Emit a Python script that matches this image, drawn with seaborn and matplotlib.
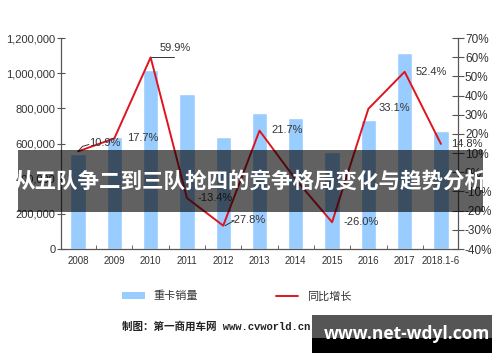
import pandas as pd
import numpy as np
import matplotlib
matplotlib.use('Agg')
import matplotlib.pyplot as plt
import seaborn as sns
from matplotlib.patches import Patch, Rectangle
from matplotlib.lines import Line2D

# data
years = ['2008', '2009', '2010', '2011', '2012', '2013', '2014', '2015', '2016', '2017', '2018.1-6']
sales = [540000, 637000, 1017000, 880000, 636000, 774000, 744000, 551000, 733000, 1117000, 672000]
growth = [10.9, 17.7, 59.9, -13.4, -27.8, 21.7, -3.8, -26.0, 33.1, 52.4, 14.8]
# label positions (index offset, y in %) for the growth labels
label_x = [0.74, 1.77, 2.67, 3.77, 4.68, 5.76, None, 7.8, 8.73, 9.72, 10.72]
label_y = [15.3, 17.8, 64.8, -13.4, -25.0, 22.0, None, -25.9, 33.5, 52.3, 14.8]

df = pd.DataFrame({'year': years, 'sales': sales, 'growth': growth})

sns.set_style('white')
plt.rcParams['font.family'] = ['Liberation Sans', 'Noto Sans CJK SC', 'DejaVu Sans']

fig = plt.figure(figsize=(5, 3.62), dpi=100)
ax = fig.add_axes([0.122, 0.312, 0.794, 0.583])

bar_color = '#99CCFF'
line_color = '#E0141E'
axis_color = '#555555'

sns.barplot(data=df, x='year', y='sales', color=bar_color, width=0.42,
            saturation=1, ax=ax)
ax.set_ylim(0, 1200000)
ax.set_yticks(np.arange(0, 1200001, 200000))
ax.set_yticklabels([f'{v:,}' for v in range(0, 1200001, 200000)])
ax.set_xlim(-0.47, 10.47)
ax.set_xlabel('')
ax.set_ylabel('')

ax2 = ax.twinx()
sns.lineplot(x=np.arange(len(years)), y=df['growth'], color=line_color,
             lw=1.4, ax=ax2, sort=False)
ax2.set_ylim(-40, 70)
ax2.set_yticks(np.arange(-40, 71, 10))
ax2.set_yticklabels([f'{v}%' for v in range(-40, 71, 10)])
ax2.set_xlim(-0.47, 10.47)
ax2.set_ylabel('')

for a in (ax, ax2):
    a.spines['top'].set_visible(False)
    for s in ['left', 'right', 'bottom']:
        a.spines[s].set_color(axis_color)
        a.spines[s].set_linewidth(0.8)
ax.tick_params(axis='y', which='major', direction='inout', length=6, width=0.8,
               color=axis_color, labelsize=8, labelcolor='#333333', pad=1, left=True)
ax2.tick_params(axis='y', which='major', direction='inout', length=8, width=0.8,
                color=axis_color, labelsize=8.5, labelcolor='#333333', pad=1, right=True)
ax.tick_params(axis='x', which='major', length=0, labelsize=7, labelcolor='#333333', pad=5)
ax.set_xticks(np.arange(0.5, 10, 1), minor=True)
ax.tick_params(axis='x', which='minor', direction='in', length=3, color=axis_color, bottom=True)

for xl, yl, g in zip(label_x, label_y, growth):
    if xl is None:
        continue
    ax2.text(xl, yl, f'{g:.1f}%', ha='center', va='center', fontsize=8, color='#333333')
# leader lines
ax2.plot([0, 0.12, 0.3], [10.9, 13.5, 14.5], color='#333333', lw=0.7)
ax2.plot([2, 2.65], [59.9, 59.9], color='#333333', lw=0.7)
ax2.plot([4.05, 4.3], [-27.8, -25.2], color='#333333', lw=0.7)

# legend
handles = [Patch(facecolor=bar_color, edgecolor='none'),
           Line2D([0], [0], color=line_color, lw=1.4)]
fig.legend(handles, ['重卡销量', '同比增长'], loc='center',
           bbox_to_anchor=(0.474, 0.182), ncol=2, frameon=False,
           fontsize=8, handlelength=2.0, handleheight=0.6, columnspacing=7.0,
           labelcolor='#333333')

fig.text(122 / 500, 1 - 327 / 362, '制图：第一商用车网 www.cvworld.cn', ha='left', va='center',
         fontsize=7.6, color='#222222', fontweight='bold',
         family=['Liberation Mono', 'Noto Sans CJK SC'], zorder=7)

# overlay banner
fig.patches.append(Rectangle((18 / 500, 1 - 212 / 362), 465 / 500, 62 / 362,
                             transform=fig.transFigure, facecolor='black',
                             alpha=0.62, edgecolor='none', zorder=5))
fig.text(250 / 500, 1 - 181 / 362, '从五队争二到三队抢四的竞争格局变化与趋势分析',
         ha='center', va='center', fontsize=15.5, color='white', fontweight='bold',
         family=['Noto Sans CJK SC'], zorder=6)

# watermark box
fig.patches.append(Rectangle((312 / 500, 1 - 353 / 362), 180 / 500, 15 / 362,
                             transform=fig.transFigure, facecolor='black',
                             edgecolor='none', zorder=5))
fig.patches.append(Rectangle((312 / 500, 1 - 338 / 362), 180 / 500, 23 / 362,
                             transform=fig.transFigure, facecolor='#555555',
                             edgecolor='none', zorder=5))
fig.text(407 / 500, 1 - 334 / 362, 'www.net-wdyl.com', ha='center', va='center',
         fontsize=12.5, color='white', fontweight='bold',
         family=['Open Sans', 'DejaVu Sans'], zorder=6)

fig.savefig('out.png', dpi=100)
